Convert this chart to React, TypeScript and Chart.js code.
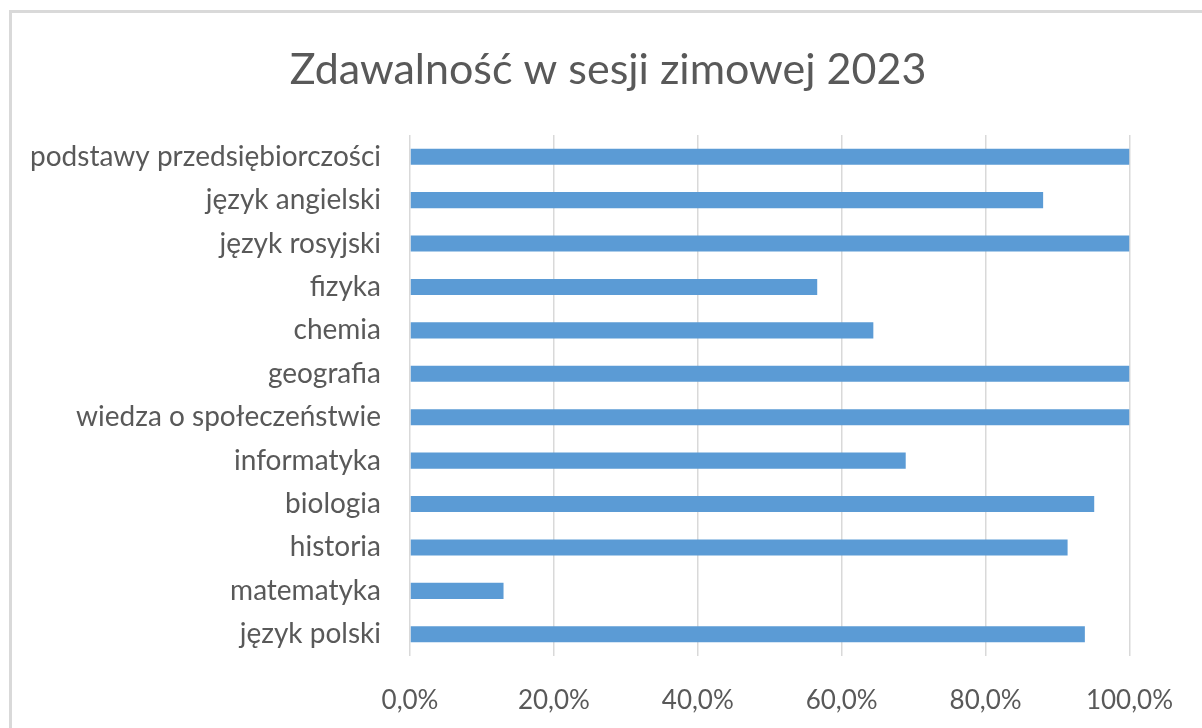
import React, { useEffect, useRef } from "react";
import { Chart, registerables } from "chart.js";

Chart.register(...registerables);

const TITLE = "Zdawalność w sesji zimowej 2023";

const categories: string[] = [
  "podstawy przedsiębiorczości",
  "język angielski",
  "język rosyjski",
  "fizyka",
  "chemia",
  "geografia",
  "wiedza o społeczeństwie",
  "informatyka",
  "biologia",
  "historia",
  "matematyka",
  "język polski",
];

const passRates: number[] = [1.0, 0.88, 1.0, 0.566, 0.644, 1.0, 1.0, 0.689, 0.951, 0.914, 0.13, 0.938];

const xTicks: number[] = [0, 0.2, 0.4, 0.6, 0.8, 1.0];

const FONT = "Lato, 'Open Sans', sans-serif";
const TEXT = "#595959";

const titlePlugin = {
  id: "customTitle",
  afterDraw(chart: any) {
    const ctx = chart.ctx;
    ctx.save();
    ctx.fillStyle = TEXT;
    ctx.font = `normal 43px ${FONT}`;
    ctx.textAlign = "center";
    ctx.textBaseline = "alphabetic";
    ctx.fillText(TITLE, 608, 84);
    ctx.restore();
  },
};

export default function App() {
  const ref = useRef<HTMLCanvasElement | null>(null);

  useEffect(() => {
    if (!ref.current) return;
    const chart = new Chart(ref.current, {
      type: "bar",
      data: {
        labels: categories,
        datasets: [
          {
            data: passRates,
            backgroundColor: "#5B9BD5",
            borderWidth: 0,
            barPercentage: 0.37,
            categoryPercentage: 1,
          },
        ],
      },
      options: {
        indexAxis: "y",
        responsive: false,
        animation: false,
        maintainAspectRatio: false,
        layout: { padding: { left: 0, right: 69, top: 135, bottom: 0 } },
        plugins: {
          legend: { display: false },
          tooltip: { enabled: false },
          title: { display: false },
        },
        scales: {
          x: {
            min: 0,
            max: 1,
            afterBuildTicks: (scale: any) => {
              scale.ticks = xTicks.map((v) => ({ value: v }));
            },
            afterFit: (scale: any) => {
              scale.height = 72;
            },
            grid: { color: "#d9d9d9", lineWidth: 1.5, drawTicks: false },
            border: { display: false },
            ticks: {
              color: TEXT,
              padding: 29,
              font: { family: FONT, size: 26 },
              callback: (v: any) => (Number(v) * 100).toFixed(1).replace(".", ",") + "%",
            },
          },
          y: {
            afterFit: (scale: any) => {
              scale.width = 410;
            },
            grid: { display: false },
            border: { display: false },
            ticks: {
              color: TEXT,
              padding: 21,
              font: { family: FONT, size: 28 },
              autoSkip: false,
            },
          },
        },
      },
      plugins: [titlePlugin],
    });
    return () => chart.destroy();
  }, []);

  return (
    <div
      style={{
        position: "absolute",
        left: 0,
        top: 0,
        width: 1202,
        height: 728,
        overflow: "hidden",
        background: "#ffffff",
      }}
    >
      <div
        style={{
          position: "absolute",
          left: 9,
          top: 10,
          width: 1300,
          height: 800,
          border: "3px solid #d9d9d9",
          boxSizing: "border-box",
        }}
      />
      <canvas
        ref={ref}
        width={1202}
        height={728}
        style={{ position: "absolute", left: 0, top: 0, width: 1202, height: 728 }}
      />
    </div>
  );
}
